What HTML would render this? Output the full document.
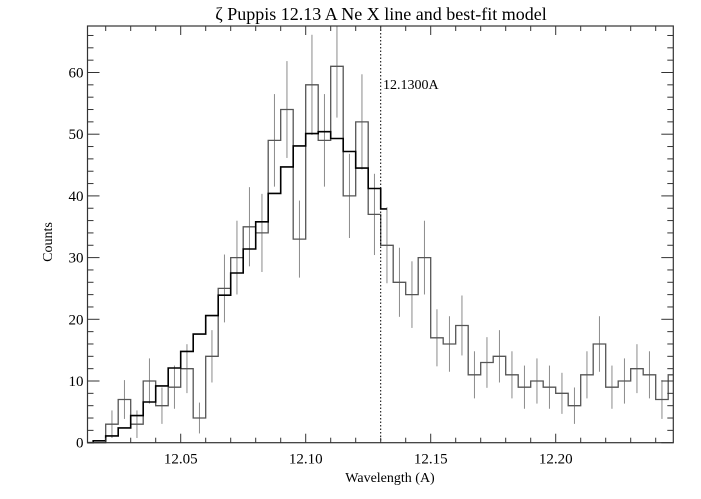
<!DOCTYPE html>
<html><head><meta charset="utf-8"><style>
html,body{margin:0;padding:0;background:#fff;}
svg{display:block;font-family:"Liberation Serif","DejaVu Serif",serif;}
</style></head><body>
<svg id="s" width="701" height="499" viewBox="0 0 701 499" xmlns="http://www.w3.org/2000/svg">
<rect width="701" height="499" fill="#fff"/>
<text x="381" y="20" font-size="18" text-anchor="middle">ζ Puppis 12.13 A Ne X line and best-fit model</text>
<text x="390" y="482" font-size="14" text-anchor="middle">Wavelength (A)</text>
<text x="0" y="0" font-size="14" text-anchor="middle" transform="translate(52,242) rotate(-90)">Counts</text>
<text x="383" y="89" font-size="14">12.1300A</text>
<g id="g"></g>
</svg>
<script>
var L=87.5,R=673.3,T=26,B=442.7;
function X(w){return 180.7+(w-12.05)*2500;}
function Y(v){return 442.7-v*6.17;}
var out=[];
var data=[[12.0127,0],[12.015,0],[12.02,3],[12.025,7],[12.03,3],[12.035,10],[12.04,6],[12.045,9],[12.05,12],[12.055,4],[12.06,14],[12.065,25],[12.07,30],[12.075,35],[12.08,34],[12.085,49],[12.09,54],[12.095,33],[12.10,58],[12.105,49],[12.11,61],[12.115,40],[12.12,52],[12.125,37],[12.13,32],[12.135,26],[12.14,24],[12.145,30],[12.15,17],[12.155,16],[12.16,19],[12.165,11],[12.17,13],[12.175,14],[12.18,11],[12.185,9],[12.19,10],[12.195,9],[12.20,8],[12.205,6],[12.21,11],[12.215,16],[12.22,9],[12.225,10],[12.23,12],[12.235,11],[12.24,7],[12.245,11]];
var model=[[12.0127,0],[12.015,0.3],[12.02,1.1],[12.025,2.4],[12.03,4.4],[12.035,6.6],[12.04,9.2],[12.045,12.1],[12.05,14.8],[12.055,17.6],[12.06,20.6],[12.065,23.9],[12.07,27.5],[12.075,31.4],[12.08,35.8],[12.085,40.4],[12.09,44.7],[12.095,48.1],[12.10,50.1],[12.105,50.4],[12.11,49.3],[12.115,47.2],[12.12,44.5],[12.125,41.2],[12.13,37.9]];
for(var i=2;i<data.length-1;i++){var c=data[i][0]+0.0025,n=data[i][1];if(n<=0)continue;var e=Math.sqrt(n)+0.5;
 var y1=Math.max(T,Y(n+e)),y2=Math.min(B,Y(n-e));out.push('<line x1="'+X(c)+'" x2="'+X(c)+'" y1="'+y1+'" y2="'+y2+'" stroke="#8a8a8a" stroke-width="1"/>');}
function step(arr,end){var p='';for(var i=0;i<arr.length;i++){var x0=X(arr[i][0]),x1=i<arr.length-1?X(arr[i+1][0]):end,y=Y(arr[i][1]);p+=(i?'L':'M')+x0.toFixed(1)+' '+y.toFixed(1)+'L'+x1.toFixed(1)+' '+y.toFixed(1);}return p;}
out.push('<path d="'+step(data,R)+'" fill="none" stroke="#555" stroke-width="1.3"/>');
out.push('<path d="'+step(model,X(12.1325))+'" fill="none" stroke="#000" stroke-width="1.6"/>');
out.push('<line x1="'+X(12.13)+'" x2="'+X(12.13)+'" y1="'+T+'" y2="'+B+'" stroke="#000" stroke-width="1" stroke-dasharray="1.5,2"/>');
out.push('<rect x="'+L+'" y="'+T+'" width="'+(R-L)+'" height="'+(B-T)+'" fill="none" stroke="#333" stroke-width="1.2"/>');
for(var w=12.02;w<12.2475;w+=0.01){var x=X(w),maj=Math.abs((w*100)%5)<0.01||Math.abs((w*100)%5-5)<0.01;var l=maj?9:5;
 out.push('<line x1="'+x+'" x2="'+x+'" y1="'+B+'" y2="'+(B-l)+'" stroke="#333"/><line x1="'+x+'" x2="'+x+'" y1="'+T+'" y2="'+(T+l)+'" stroke="#333"/>');
 if(maj)out.push('<text x="'+x+'" y="'+(B+21)+'" font-size="15" text-anchor="middle">'+w.toFixed(2)+'</text>');}
for(var v=0;v<=66;v+=2){var y=Y(v),maj=v%10==0,l=maj?12:6;
 out.push('<line x1="'+L+'" x2="'+(L+l)+'" y1="'+y+'" y2="'+y+'" stroke="#333"/><line x1="'+R+'" x2="'+(R-l)+'" y1="'+y+'" y2="'+y+'" stroke="#333"/>');
 if(maj)out.push('<text x="'+(L-4)+'" y="'+(y+5)+'" font-size="15" text-anchor="end">'+v+'</text>');}
document.getElementById('g').innerHTML=out.join('');
</script>
</body></html>
